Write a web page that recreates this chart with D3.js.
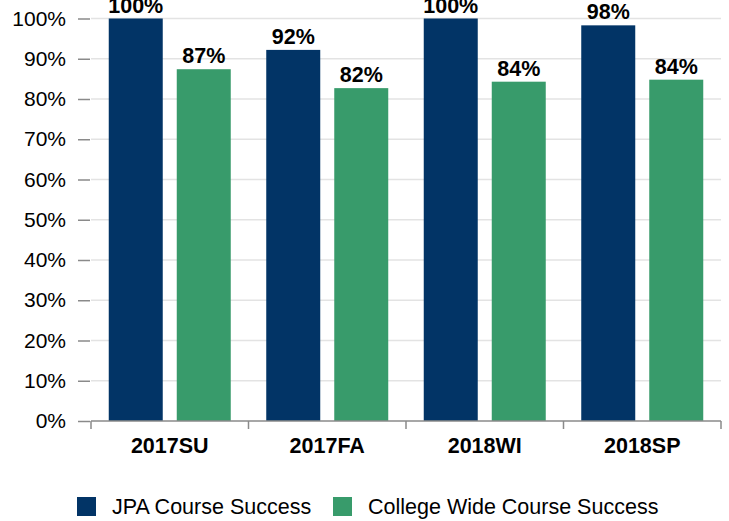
<!DOCTYPE html>
<html>
<head>
<meta charset="utf-8">
<script src="https://cdn.jsdelivr.net/npm/d3@7"></script>
<style>
    body { margin: 0; background: #fff; }
    text { font-family: "Liberation Sans", Arial, sans-serif; fill: #000; }
</style>
</head>
<body>
<div id="chart"></div>
<script>
const terms = ["2017SU", "2017FA", "2018WI", "2018SP"];
const seriesNames = ["JPA Course Success", "College Wide Course Success"];
const jpaValues = [100, 92.2, 100, 98.3];
const collegeValues = [87.4, 82.7, 84.3, 84.8];
const yTicks = [0, 10, 20, 30, 40, 50, 60, 70, 80, 90, 100];
const colors = ["#023466", "#389b6b"];

(function () {
    const w = 729, h = 521;
    const left = 91, right = 721, top = 18.5, bottom = 421;

    const svg = d3.select("#chart")
        .append("svg")
        .attr("width", w)
        .attr("height", h);

    const rows = terms.map((t, i) => ({ term: t, values: [jpaValues[i], collegeValues[i]] }));

    const x0 = d3.scaleBand()
        .domain(terms)
        .range([left, right]);

    const x1 = d3.scaleBand()
        .domain(seriesNames)
        .range([0, x0.bandwidth()])
        .paddingInner(0.206)
        .paddingOuter(0.261);

    const y = d3.scaleLinear()
        .domain([0, 100])
        .range([bottom, top]);

    // gridlines
    svg.append("g")
        .selectAll("line")
        .data(yTicks.filter(d => d > 0))
        .enter()
        .append("line")
        .attr("x1", left)
        .attr("x2", right)
        .attr("y1", d => y(d))
        .attr("y2", d => y(d))
        .attr("stroke", "#e3e3e3")
        .attr("stroke-width", 1.5);

    // y axis: ticks and labels only
    const yAxis = svg.append("g")
        .attr("transform", `translate(${left - 1},0)`)
        .call(d3.axisLeft(y).tickValues(yTicks).tickFormat(d => d + "%").tickSize(12).tickPadding(12));
    yAxis.select(".domain").remove();
    yAxis.selectAll(".tick line").attr("stroke", "#8a8a8a").attr("stroke-width", 1.5);
    yAxis.selectAll(".tick text")
        .attr("font-size", 21)
        .attr("font-family", "Liberation Sans, Arial, sans-serif")
        .attr("fill", "#000");

    // bars
    const groups = svg.append("g")
        .selectAll("g")
        .data(rows)
        .enter()
        .append("g")
        .attr("transform", d => `translate(${x0(d.term)},0)`);

    groups.selectAll("rect")
        .data(d => d.values.map((v, i) => ({ key: seriesNames[i], v: v, i: i })))
        .enter()
        .append("rect")
        .attr("x", d => x1(d.key))
        .attr("y", d => y(d.v))
        .attr("width", x1.bandwidth())
        .attr("height", d => y(0) - y(d.v))
        .attr("fill", d => colors[d.i]);

    groups.selectAll("text")
        .data(d => d.values.map((v, i) => ({ key: seriesNames[i], v: v })))
        .enter()
        .append("text")
        .attr("x", d => x1(d.key) + x1.bandwidth() / 2)
        .attr("y", d => y(d.v) - 6)
        .attr("text-anchor", "middle")
        .attr("font-size", 21.5)
        .attr("font-weight", "bold")
        .text(d => Math.floor(d.v) + "%");

    // x axis
    const xAxis = svg.append("g")
        .attr("transform", `translate(0,${bottom})`);
    xAxis.append("line")
        .attr("x1", left)
        .attr("x2", right)
        .attr("stroke", "#8a8a8a")
        .attr("stroke-width", 1.5);
    xAxis.selectAll("line.tick")
        .data(terms.concat(["end"]))
        .enter()
        .append("line")
        .attr("class", "tick")
        .attr("x1", d => d === "end" ? right : x0(d))
        .attr("x2", d => d === "end" ? right : x0(d))
        .attr("y1", 0)
        .attr("y2", 8)
        .attr("stroke", "#8a8a8a")
        .attr("stroke-width", 1.5);
    xAxis.selectAll("text")
        .data(terms)
        .enter()
        .append("text")
        .attr("x", d => x0(d) + x0.bandwidth() / 2)
        .attr("y", 32)
        .attr("text-anchor", "middle")
        .attr("font-size", 21.5)
        .attr("font-weight", "bold")
        .text(d => d);

    // legend
    const legendX = [77, 333];
    const legend = svg.append("g")
        .selectAll("g")
        .data(seriesNames)
        .enter()
        .append("g")
        .attr("transform", (d, i) => `translate(${legendX[i]},497)`);
    legend.append("rect")
        .attr("width", 19)
        .attr("height", 19)
        .attr("fill", (d, i) => colors[i]);
    legend.append("text")
        .attr("x", 35)
        .attr("y", 17)
        .attr("font-size", 21.5)
        .text(d => d);
})();
</script>
</body>
</html>
